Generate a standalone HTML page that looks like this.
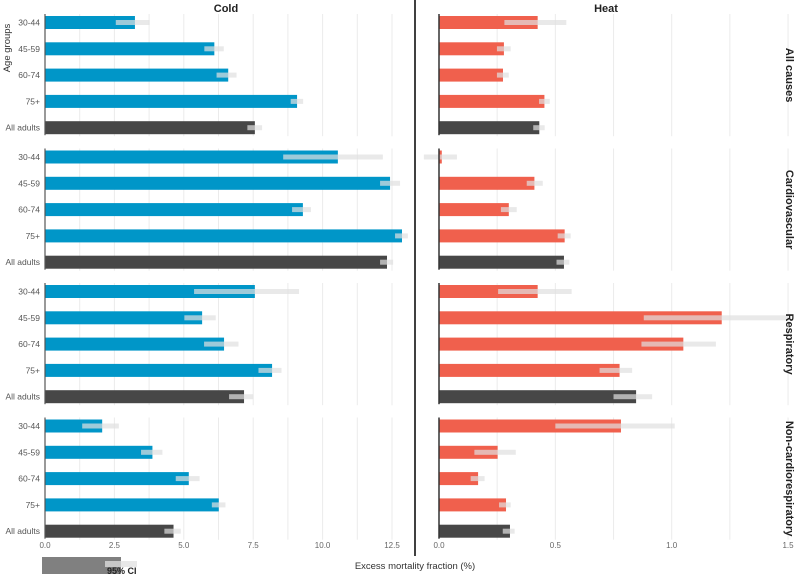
<!DOCTYPE html>
<html><head><meta charset="utf-8">
<style>
html,body{margin:0;padding:0;background:#fff;}
svg{display:block;font-family:"Liberation Sans",sans-serif;}
</style></head>
<body>
<svg id="chart" width="800" height="574" viewBox="0 0 800 574"></svg>
<script>
const ageGroups = ["30-44","45-59","60-74","75+","All adults"];
const causes = ["All causes","Cardiovascular","Respiratory","Non-cardiorespiratory"];
const coldTicks = [0,2.5,5,7.5,10,12.5];
const coldTickLabels = ["0.0","2.5","5.0","7.5","10.0","12.5"];
const heatTicks = [0,0.5,1,1.5];
const heatTickLabels = ["0.0","0.5","1.0","1.5"];
// cold values per cause (rows = age groups)
const coldVal = [[3.24,6.1,6.6,9.08,7.56],[10.55,12.43,9.29,12.86,12.32],[7.56,5.66,6.45,8.18,7.17],[2.06,3.87,5.18,6.26,4.63]];
const coldLo = [[2.55,5.74,6.18,8.85,7.29],[8.58,12.07,8.9,12.61,12.07],[5.37,5.02,5.73,7.69,6.63],[1.34,3.46,4.71,6.01,4.3]];
const coldHi = [[3.77,6.44,6.9,9.3,7.82],[12.17,12.79,9.58,13.07,12.54],[9.15,6.15,6.97,8.52,7.5],[2.66,4.23,5.57,6.5,4.89]];
const heatVal = [[0.424,0.279,0.275,0.453,0.431],[0.012,0.41,0.30,0.54,0.537],[0.424,1.215,1.05,0.776,0.847],[0.782,0.252,0.168,0.288,0.305]];
const heatLo = [[0.281,0.249,0.249,0.43,0.405],[-0.065,0.377,0.266,0.51,0.505],[0.254,0.88,0.87,0.69,0.75],[0.5,0.152,0.136,0.258,0.274]];
const heatHi = [[0.547,0.308,0.3,0.476,0.454],[0.077,0.446,0.334,0.566,0.56],[0.57,1.5,1.19,0.83,0.916],[1.013,0.33,0.196,0.308,0.325]];

const svg = document.getElementById('chart');
const NS = "http://www.w3.org/2000/svg";
function mk(tag, attrs, parent){
  const e = document.createElementNS(NS, tag);
  for (const k in attrs) e.setAttribute(k, attrs[k]);
  (parent||svg).appendChild(e);
  return e;
}
const xCold = v => 45 + v*27.76;
const xHeat = v => 439 + v*232.7;
const panelTop = p => 16 + p*134.5;
const rowY = (p,i) => panelTop(p) + i*26.3;
const BH = 13;

// gridlines
for (let p=0;p<4;p++){
  const y0 = panelTop(p)-2, y1 = panelTop(p)+4*26.3+BH+2;
  for (let k=1;k<=10;k++){
    const g = mk('line',{x1:xCold(k*1.25),x2:xCold(k*1.25),y1:y0,y2:y1,stroke:'#ebebeb','stroke-width':1});
    
    
  }
  for (let k=1;k<=6;k++){
    const g = mk('line',{x1:xHeat(k*0.25),x2:xHeat(k*0.25),y1:y0,y2:y1,stroke:'#ebebeb','stroke-width':1});
    
    
  }
}

function drawBar(xf, v, lo, hi, y, color, name){
  const x0 = xf(0), x1 = xf(v);
  const r = mk('rect',{x:Math.min(x0,x1),y:y,width:Math.max(1.5,Math.abs(x1-x0)),height:BH,fill:color});
  
  
  const c = mk('rect',{x:xf(lo),y:y+BH/2-2.5,width:xf(hi)-xf(lo),height:5,fill:'#e0e0e0','fill-opacity':0.7});
  
  
}

for (let p=0;p<4;p++){
  for (let i=0;i<5;i++){
    const y = rowY(p,i);
    const isAll = i===4;
    drawBar(xCold, coldVal[p][i], coldLo[p][i], coldHi[p][i], y, isAll?'#474747':'#0096c8', 'cold');
    drawBar(xHeat, heatVal[p][i], heatLo[p][i], heatHi[p][i], y, isAll?'#474747':'#f0604d', 'heat');
    const t = mk('text',{x:40,y:y+BH/2+3,'text-anchor':'end','font-size':8.5,fill:'#555'});
    t.textContent = ageGroups[i];
    
    
  }
  const y0 = panelTop(p)-2, y1 = panelTop(p)+4*26.3+BH+1;
  const a1 = mk('line',{x1:45,x2:45,y1:y0,y2:y1,stroke:'#555','stroke-width':1.2});
  
  
  const a2 = mk('line',{x1:439,x2:439,y1:y0,y2:y1,stroke:'#333','stroke-width':1.5});
  
  
  const cy = panelTop(p) + (4*26.3+BH)/2;
  const f = mk('text',{x:0,y:0,transform:`translate(786,${cy}) rotate(90)`,'text-anchor':'middle','font-size':11,'font-weight':'bold',fill:'#222'});
  f.textContent = causes[p];
  
  
}

coldTicks.forEach((v,i)=>{
  const t = mk('text',{x:xCold(v),y:548,'text-anchor':'middle','font-size':8,fill:'#666'});
  t.textContent = coldTickLabels[i];
  
  
});
heatTicks.forEach((v,i)=>{
  const t = mk('text',{x:xHeat(v),y:548,'text-anchor':'middle','font-size':8,fill:'#666'});
  t.textContent = heatTickLabels[i];
  
  
});
</script>
<svg width="800" height="574" style="position:absolute;left:0;top:0;font-family:'Liberation Sans',sans-serif">
  <line x1="415" x2="415" y1="0" y2="556" stroke="#000" stroke-width="1.5"/>
  <text x="226" y="12" text-anchor="middle" font-size="11" font-weight="bold" fill="#222">Cold</text>
  <text x="606" y="12" text-anchor="middle" font-size="11" font-weight="bold" fill="#222">Heat</text>
  <text transform="translate(10,48) rotate(-90)" text-anchor="middle" font-size="9.5" fill="#333">Age groups</text>
  <text x="415" y="569" text-anchor="middle" font-size="9.5" fill="#333">Excess mortality fraction (%)</text>
  <rect x="42" y="557" width="79" height="17" fill="#808080"/>
  <rect x="105" y="561" width="32" height="6" fill="#e0e0e0" fill-opacity="0.75"/>
  <text x="107" y="574" font-size="9" font-weight="bold" fill="#222">95% CI</text>
</svg>
</body></html>
